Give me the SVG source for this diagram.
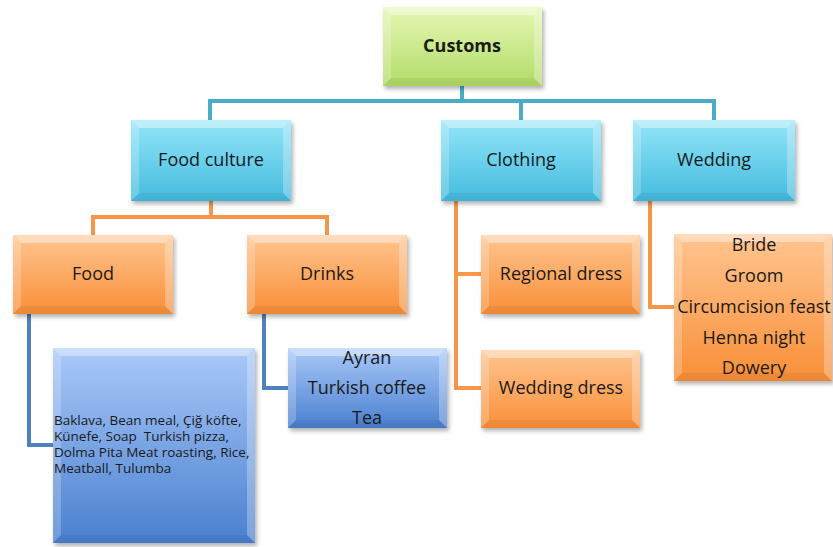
<svg xmlns="http://www.w3.org/2000/svg" width="833" height="547" viewBox="0 0 833 547">
<defs>
<linearGradient id="gG" x1="0" y1="0" x2="0" y2="1"><stop offset="0" stop-color="#e6f7b4"/><stop offset="1" stop-color="#b2dc68"/></linearGradient>
<linearGradient id="gC" x1="0" y1="0" x2="0" y2="1"><stop offset="0" stop-color="#93e6f8"/><stop offset="1" stop-color="#44bbdf"/></linearGradient>
<linearGradient id="gO" x1="0" y1="0" x2="0" y2="1"><stop offset="0" stop-color="#ffc590"/><stop offset="1" stop-color="#f98f38"/></linearGradient>
<linearGradient id="gB" x1="0" y1="0" x2="0" y2="1"><stop offset="0" stop-color="#a9c9f9"/><stop offset="1" stop-color="#4a80cf"/></linearGradient>
<filter id="sh" x="-10%" y="-10%" width="125%" height="125%"><feDropShadow dx="2" dy="3" stdDeviation="2" flood-color="#000" flood-opacity="0.3"/></filter>
</defs>
<style>
.n{filter:url(#sh)}
.bt{fill:#fff;opacity:0.4}
.bl{fill:#fff;opacity:0.22}
.br{fill:#fff;opacity:0.28}
.bb{fill:#000;opacity:0.05}
text{font-family:"Open Sans","DejaVu Sans",sans-serif;font-size:18px;fill:#1a1a1a;text-anchor:middle;dominant-baseline:central}
.small{font-size:13.5px;text-anchor:start;white-space:pre}
.bold{font-weight:bold}
.c{fill:none;stroke-width:4;stroke-linejoin:miter}
</style>
<g id="connectors">
<path class="c" stroke="#4bacc6" d="M462,86 V101 M210,120 V101 H714 V120 M521,101 V120"/>
<path class="c" stroke="#f79646" d="M211,201 V217 M93,235 V217 H327 V235"/>
<path class="c" stroke="#4f81bd" d="M29,314 V445 H53 M264,314 V388 H288"/>
<path class="c" stroke="#f79646" d="M456,201 V388 H481 M456,274 H481 M650,201 V307 H674"/>
</g>
<g id="customs">
<rect class="n" x="383" y="7" width="159" height="79" fill="url(#gG)"/>
<path class="bt" d="M383,7 h159 l-8,8 h-143 z"/><path class="bl" d="M383,7 l8,8 v63 l-8,8 z"/><path class="br" d="M542,7 v79 l-8,-8 v-63 z"/><path class="bb" d="M383,86 h159 l-8,-8 h-143 z"/>
<text class="bold" x="462" y="45">Customs</text>
</g>
<g id="food-culture">
<rect class="n" x="131" y="120" width="160" height="81" fill="url(#gC)"/>
<path class="bt" d="M131,120 h160 l-8,8 h-144 z"/><path class="bl" d="M131,120 l8,8 v65 l-8,8 z"/><path class="br" d="M291,120 v81 l-8,-8 v-65 z"/><path class="bb" d="M131,201 h160 l-8,-8 h-144 z"/>
<text x="211" y="159">Food culture</text>
</g>
<g id="clothing">
<rect class="n" x="441" y="120" width="160" height="81" fill="url(#gC)"/>
<path class="bt" d="M441,120 h160 l-8,8 h-144 z"/><path class="bl" d="M441,120 l8,8 v65 l-8,8 z"/><path class="br" d="M601,120 v81 l-8,-8 v-65 z"/><path class="bb" d="M441,201 h160 l-8,-8 h-144 z"/>
<text x="521" y="159">Clothing</text>
</g>
<g id="wedding">
<rect class="n" x="633" y="120" width="162" height="81" fill="url(#gC)"/>
<path class="bt" d="M633,120 h162 l-8,8 h-146 z"/><path class="bl" d="M633,120 l8,8 v65 l-8,8 z"/><path class="br" d="M795,120 v81 l-8,-8 v-65 z"/><path class="bb" d="M633,201 h162 l-8,-8 h-146 z"/>
<text x="714" y="159">Wedding</text>
</g>
<g id="food">
<rect class="n" x="13" y="235" width="160" height="79" fill="url(#gO)"/>
<path class="bt" d="M13,235 h160 l-8,8 h-144 z"/><path class="bl" d="M13,235 l8,8 v63 l-8,8 z"/><path class="br" d="M173,235 v79 l-8,-8 v-63 z"/><path class="bb" d="M13,314 h160 l-8,-8 h-144 z"/>
<text x="93" y="273">Food</text>
</g>
<g id="drinks">
<rect class="n" x="247" y="235" width="160" height="79" fill="url(#gO)"/>
<path class="bt" d="M247,235 h160 l-8,8 h-144 z"/><path class="bl" d="M247,235 l8,8 v63 l-8,8 z"/><path class="br" d="M407,235 v79 l-8,-8 v-63 z"/><path class="bb" d="M247,314 h160 l-8,-8 h-144 z"/>
<text x="327" y="273">Drinks</text>
</g>
<g id="regional-dress">
<rect class="n" x="481" y="235" width="159" height="79" fill="url(#gO)"/>
<path class="bt" d="M481,235 h159 l-8,8 h-143 z"/><path class="bl" d="M481,235 l8,8 v63 l-8,8 z"/><path class="br" d="M640,235 v79 l-8,-8 v-63 z"/><path class="bb" d="M481,314 h159 l-8,-8 h-143 z"/>
<text x="561" y="273">Regional dress</text>
</g>
<g id="wedding-dress">
<rect class="n" x="481" y="350" width="159" height="78" fill="url(#gO)"/>
<path class="bt" d="M481,350 h159 l-8,8 h-143 z"/><path class="bl" d="M481,350 l8,8 v62 l-8,8 z"/><path class="br" d="M640,350 v78 l-8,-8 v-62 z"/><path class="bb" d="M481,428 h159 l-8,-8 h-143 z"/>
<text x="561" y="387">Wedding dress</text>
</g>
<g id="wedding-list">
<rect class="n" x="674" y="234" width="158" height="147" fill="url(#gO)"/>
<path class="bt" d="M674,234 h158 l-8,8 h-142 z"/><path class="bl" d="M674,234 l8,8 v131 l-8,8 z"/><path class="br" d="M832,234 v147 l-8,-8 v-131 z"/><path class="bb" d="M674,381 h158 l-8,-8 h-142 z"/>
<text x="754" y="244">Bride</text>
<text x="754" y="275">Groom</text>
<text x="754" y="306">Circumcision feast</text>
<text x="754" y="337">Henna night</text>
<text x="754" y="367">Dowery</text>
</g>
<g id="food-list">
<rect class="n" x="53" y="348" width="202" height="195" fill="url(#gB)"/>
<path class="bt" d="M53,348 h202 l-8,8 h-186 z"/><path class="bl" d="M53,348 l8,8 v179 l-8,8 z"/><path class="br" d="M255,348 v195 l-8,-8 v-179 z"/><path class="bb" d="M53,543 h202 l-8,-8 h-186 z"/>
<text class="small" x="54" y="420">Baklava, Bean meal, Çiğ köfte,</text>
<text class="small" x="54" y="436">Künefe, Soap  Turkish pizza,</text>
<text class="small" x="54" y="452">Dolma Pita Meat roasting, Rice,</text>
<text class="small" x="54" y="468">Meatball, Tulumba</text>
</g>
<g id="drinks-list">
<rect class="n" x="288" y="348" width="159" height="80" fill="url(#gB)"/>
<path class="bt" d="M288,348 h159 l-8,8 h-143 z"/><path class="bl" d="M288,348 l8,8 v64 l-8,8 z"/><path class="br" d="M447,348 v80 l-8,-8 v-64 z"/><path class="bb" d="M288,428 h159 l-8,-8 h-143 z"/>
<text x="367" y="357">Ayran</text>
<text x="367" y="387">Turkish coffee</text>
<text x="367" y="417">Tea</text>
</g>
</svg>
